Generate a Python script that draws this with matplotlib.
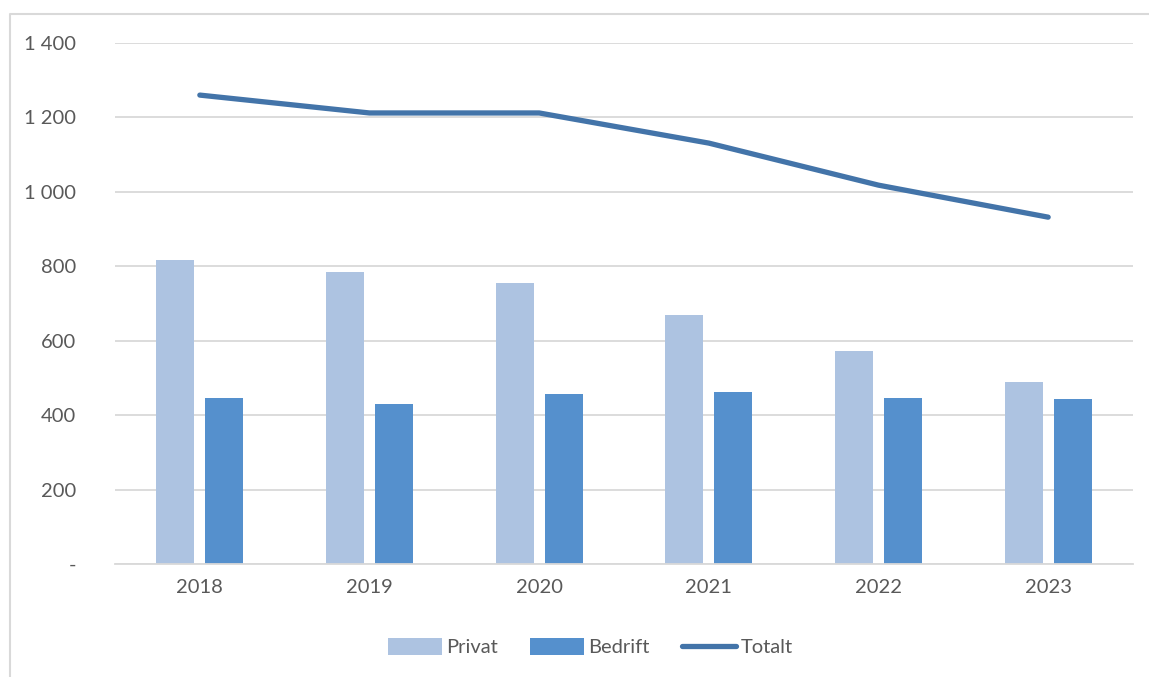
import matplotlib.pyplot as plt
from matplotlib.lines import Line2D
from matplotlib.ticker import FuncFormatter
import numpy as np

# Data
years = ["2018", "2019", "2020", "2021", "2022", "2023"]
privat = [817, 785, 755, 669, 572, 489]
bedrift = [446, 430, 457, 462, 446, 443]
totalt = [1260, 1212, 1212, 1131, 1018, 932]

c_privat = "#ADC3E1"
c_bedrift = "#5590CD"
c_total = "#4374A9"
txt = "#595959"

plt.rcParams["font.family"] = ["Lato", "DejaVu Sans"]

fig = plt.figure(figsize=(11.49, 6.77), dpi=100)
ax = fig.add_axes([115 / 1149, 1 - 564 / 677, 1018 / 1149, 521 / 677])

x = np.arange(len(years))
w = 0.224
b1 = ax.bar(x - 0.145, privat, width=w, color=c_privat, label="Privat", zorder=2)
b2 = ax.bar(x + 0.145, bedrift, width=w, color=c_bedrift, label="Bedrift", zorder=2)
l1, = ax.plot(x, totalt, color=c_total, lw=3.8, solid_capstyle="round", label="Totalt", zorder=3)

ax.set_xlim(-0.5, len(years) - 0.5)
ax.set_ylim(0, 1400)
ax.set_yticks(range(0, 1401, 200))
ax.yaxis.set_major_formatter(FuncFormatter(lambda v, p: "-" if v == 0 else f"{int(v):,}".replace(",", " ")))
ax.set_xticks(x)
ax.set_xticklabels(years)
ax.grid(axis="y", color="#D9D9D9", lw=1.3, zorder=0)
for s in ["top", "right", "left"]:
    ax.spines[s].set_visible(False)
ax.spines["bottom"].set_color("#D9D9D9")
ax.spines["bottom"].set_linewidth(1.3)
ax.tick_params(axis="both", length=0, labelsize=14.5, colors=txt)
ax.tick_params(axis="y", pad=28)
ax.tick_params(axis="x", pad=11)

leg = fig.legend([b1, b2, l1], ["Privat", "Bedrift", "Totalt"], loc="center",
                 bbox_to_anchor=(590 / 1149, 1 - 647 / 677), ncol=3, frameon=False,
                 fontsize=14.5, handlelength=2.7, handleheight=0.9, columnspacing=1.6, handletextpad=0.2)
for t in leg.get_texts():
    t.set_color(txt)

# outer chart border (top and left visible)
fig.lines.append(Line2D([10 / 1149, 10 / 1149, 1.0], [0.0, 1 - 14 / 677, 1 - 14 / 677],
                        transform=fig.transFigure, color="#D9D9D9", lw=1.5))

fig.savefig("out.png", dpi=100)
